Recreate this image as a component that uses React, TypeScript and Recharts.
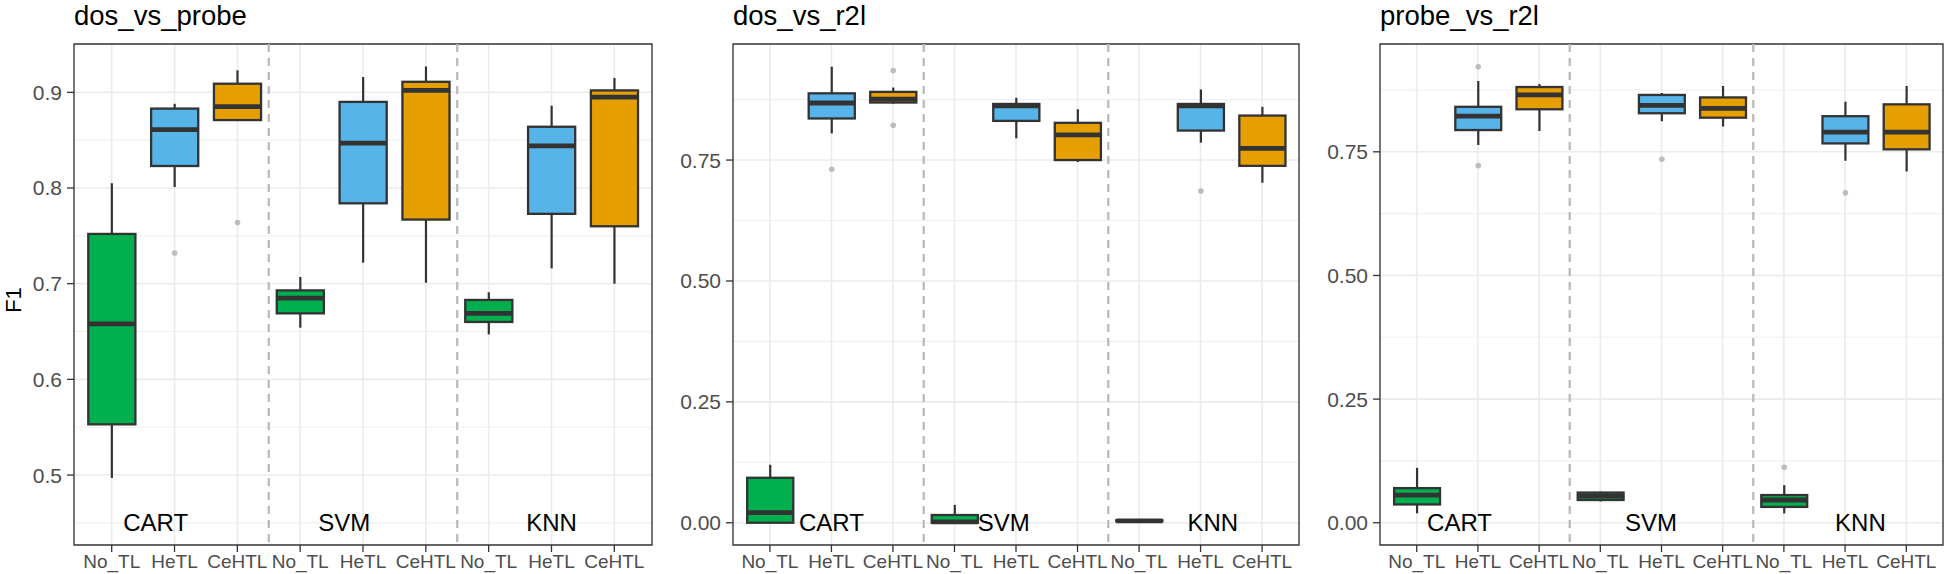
import {
  ComposedChart,
  Bar,
  XAxis,
  YAxis,
  CartesianGrid,
  ReferenceLine,
  ReferenceArea,
  ReferenceDot,
} from "recharts";

const FONT = '"Liberation Sans", Arial, Helvetica, sans-serif';

const methods = ["No_TL", "HeTL", "CeHTL", "No_TL", "HeTL", "CeHTL", "No_TL", "HeTL", "CeHTL"];
const classifiers = ["CART", "SVM", "KNN"];
const fills = ["#00B04F", "#56B4E9", "#E69F00"];

// [whisker low, Q1, median, Q3, whisker high] per box
const dosProbeStats = [
  [0.497, 0.553, 0.658, 0.752, 0.805],
  [0.801, 0.823, 0.861, 0.883, 0.888],
  [0.871, 0.871, 0.885, 0.909, 0.923],
  [0.654, 0.669, 0.685, 0.693, 0.707],
  [0.722, 0.784, 0.847, 0.89, 0.916],
  [0.701, 0.767, 0.902, 0.911, 0.927],
  [0.647, 0.66, 0.669, 0.683, 0.691],
  [0.716, 0.773, 0.844, 0.864, 0.886],
  [0.7, 0.76, 0.895, 0.902, 0.915],
];
const dosProbeOutliers = [[], [0.732], [0.764], [], [], [], [], [], []];

const dosR2lStats = [
  [0.0, 0.0, 0.021, 0.093, 0.12],
  [0.805, 0.836, 0.868, 0.888, 0.943],
  [0.867, 0.869, 0.876, 0.891, 0.9],
  [0.0, 0.0, 0.002, 0.016, 0.037],
  [0.795, 0.831, 0.862, 0.866, 0.879],
  [0.746, 0.75, 0.802, 0.827, 0.855],
  [0.002, 0.003, 0.004, 0.005, 0.006],
  [0.786, 0.811, 0.862, 0.866, 0.896],
  [0.703, 0.738, 0.774, 0.842, 0.86],
];
const dosR2lOutliers = [[], [0.731], [0.935, 0.822], [], [], [], [], [0.686], []];

const probeR2lStats = [
  [0.019, 0.037, 0.056, 0.07, 0.111],
  [0.764, 0.794, 0.822, 0.841, 0.893],
  [0.792, 0.836, 0.865, 0.881, 0.887],
  [0.043, 0.046, 0.054, 0.061, 0.063],
  [0.812, 0.828, 0.844, 0.865, 0.869],
  [0.801, 0.819, 0.838, 0.86, 0.883],
  [0.019, 0.032, 0.046, 0.056, 0.076],
  [0.732, 0.767, 0.79, 0.822, 0.851],
  [0.71, 0.755, 0.79, 0.846, 0.883],
];
const probeR2lOutliers = [[], [0.922, 0.722], [], [], [0.735], [], [0.112], [0.667], []];

// y axis ticks
const ticksF1 = [0.5, 0.6, 0.7, 0.8, 0.9];
const minorF1 = [0.45, 0.55, 0.65, 0.75, 0.85, 0.95];
const ticksQ = [0, 0.25, 0.5, 0.75];
const minorQ = [0.125, 0.375, 0.625, 0.875];

// where the classifier names sit (x in category units, y in data units)
const dosProbeLabelX = [0.7, 3.7, 7.0];
const dosR2lLabelX = [1.0, 3.8, 7.2];
const probeR2lLabelX = [0.7, 3.83, 7.25];

// group separators, in category units
const separators = [2.5, 5.5];

const BoxShape = (props: any) => {
  const { x, y, width, height, payload } = props;
  const { lo, q1, med, q3, hi, out, fill } = payload;
  const top = Math.min(y, y + height);
  const bot = Math.max(y, y + height);
  const py = (v: number) => top + ((bot - top) * (hi - v)) / (hi - lo);
  const cx = x + width / 2;
  return (
    <g>
      <line x1={cx} x2={cx} y1={py(hi)} y2={py(q3)} stroke="#333333" strokeWidth={2.2} />
      <line x1={cx} x2={cx} y1={py(q1)} y2={py(lo)} stroke="#333333" strokeWidth={2.2} />
      <rect x={x} y={py(q3)} width={width} height={py(q1) - py(q3)} fill={fill} stroke="#333333" strokeWidth={2.3} />
      <line x1={x} x2={x + width} y1={py(med)} y2={py(med)} stroke="#333333" strokeWidth={4.8} />
      {out.map((o: number, i: number) => (
        <circle key={i} cx={cx} cy={py(o)} r={2.8} fill="#BDBDBD" />
      ))}
    </g>
  );
};

type PanelProps = {
  stats: number[][];
  outliers: number[][];
  domain: [number, number];
  yTicks: number[];
  minor: number[];
  digits: number;
  labelX: number[];
  labelY: number;
  left: number;
  width: number;
  yAxisWidth: number;
};

const Panel = (p: PanelProps) => {
  const rows = methods.map((m, i) => {
    const [lo, q1, med, q3, hi] = p.stats[i];
    return {
      key: classifiers[Math.floor(i / 3)] + "_" + m,
      pos: i,
      lo, q1, med, q3, hi,
      out: p.outliers[i],
      fill: fills[i % 3],
    };
  });
  const plotW = p.width - p.yAxisWidth - 3;
  const band = plotW / 9.2;

  return (
    <div style={{ position: "absolute", left: p.left, top: 0 }}>
      <ComposedChart width={p.width} height={574} data={rows} margin={{ top: 44, right: 3, bottom: 0, left: 0 }}>
        <CartesianGrid xAxisId="cat" vertical={false} horizontalValues={p.minor} stroke="#F0F0F0" strokeWidth={1.1} />
        <CartesianGrid xAxisId="cat" horizontalValues={p.yTicks} stroke="#EBEBEB" strokeWidth={1.6} />
        <XAxis
          xAxisId="num"
          dataKey="pos"
          type="number"
          orientation="top"
          domain={[-0.6, 8.6]}
          allowDataOverflow
          hide
          height={0}
        />
        <XAxis
          xAxisId="cat"
          dataKey="key"
          type="category"
          padding={{ left: band * 0.1, right: band * 0.1 }}
          interval={0}
          tickFormatter={(_v, i) => methods[i]}
          height={29}
          axisLine={false}
          tickLine={{ stroke: "#333333", strokeWidth: 1.3 }}
          tickSize={7}
          tickMargin={3}
          tick={{ fill: "#4D4D4D", fontSize: 19, fontFamily: FONT }}
        />
        <YAxis
          type="number"
          domain={p.domain}
          allowDataOverflow
          ticks={p.yTicks}
          interval={0}
          tickFormatter={(v) => v.toFixed(p.digits)}
          width={p.yAxisWidth}
          axisLine={false}
          tickLine={{ stroke: "#333333", strokeWidth: 1.3 }}
          tickSize={7}
          tickMargin={5}
          tick={{ fill: "#4D4D4D", fontSize: 21, fontFamily: FONT }}
        />
        {separators.map((s) => (
          <ReferenceLine key={s} xAxisId="num" x={s} stroke="#B8B8B8" strokeWidth={2.2} strokeDasharray="8 6" />
        ))}
        <Bar
          xAxisId="cat"
          dataKey={(d: any) => [d.lo, d.hi]}
          barSize={band * 0.75}
          shape={BoxShape}
          isAnimationActive={false}
        />
        <ReferenceArea
          xAxisId="num"
          x1={-0.6}
          x2={8.6}
          y1={p.domain[0]}
          y2={p.domain[1]}
          fill="none"
          fillOpacity={0}
          stroke="#333333"
          strokeWidth={1.3}
          ifOverflow="visible"
        />
        {classifiers.map((c, i) => (
          <ReferenceDot
            key={c}
            xAxisId="num"
            x={p.labelX[i]}
            y={p.labelY}
            r={1}
            fill="none"
            stroke="none"
            label={{ value: c, position: "center", fill: "#000000", fontSize: 24, fontFamily: FONT }}
          />
        ))}
      </ComposedChart>
    </div>
  );
};

export default function App() {
  return (
    <div style={{ position: "absolute", left: 0, top: 0, width: 1946, height: 574, background: "#fff" }}>
      <Panel
        stats={dosProbeStats}
        outliers={dosProbeOutliers}
        domain={[0.4269, 0.9505]}
        yTicks={ticksF1}
        minor={minorF1}
        digits={1}
        labelX={dosProbeLabelX}
        labelY={0.45}
        left={0}
        width={655}
        yAxisWidth={74}
      />
      <Panel
        stats={dosR2lStats}
        outliers={dosR2lOutliers}
        domain={[-0.046, 0.99]}
        yTicks={ticksQ}
        minor={minorQ}
        digits={2}
        labelX={dosR2lLabelX}
        labelY={0}
        left={652}
        width={650}
        yAxisWidth={81}
      />
      <Panel
        stats={probeR2lStats}
        outliers={probeR2lOutliers}
        domain={[-0.045, 0.968]}
        yTicks={ticksQ}
        minor={minorQ}
        digits={2}
        labelX={probeR2lLabelX}
        labelY={0}
        left={1299}
        width={647}
        yAxisWidth={81}
      />
      <svg width={1946} height={574} style={{ position: "absolute", left: 0, top: 0, pointerEvents: "none" }}>
        <g fontFamily={FONT} fill="#000000">
          <text x={74} y={25} fontSize={27.5}>dos_vs_probe</text>
          <text x={733} y={25} fontSize={27.5}>dos_vs_r2l</text>
          <text x={1380} y={25} fontSize={27.5}>probe_vs_r2l</text>
          <text x={13} y={300} fontSize={22} textAnchor="middle" dominantBaseline="central" transform="rotate(-90 13 300)">
            F1
          </text>
        </g>
      </svg>
    </div>
  );
}
